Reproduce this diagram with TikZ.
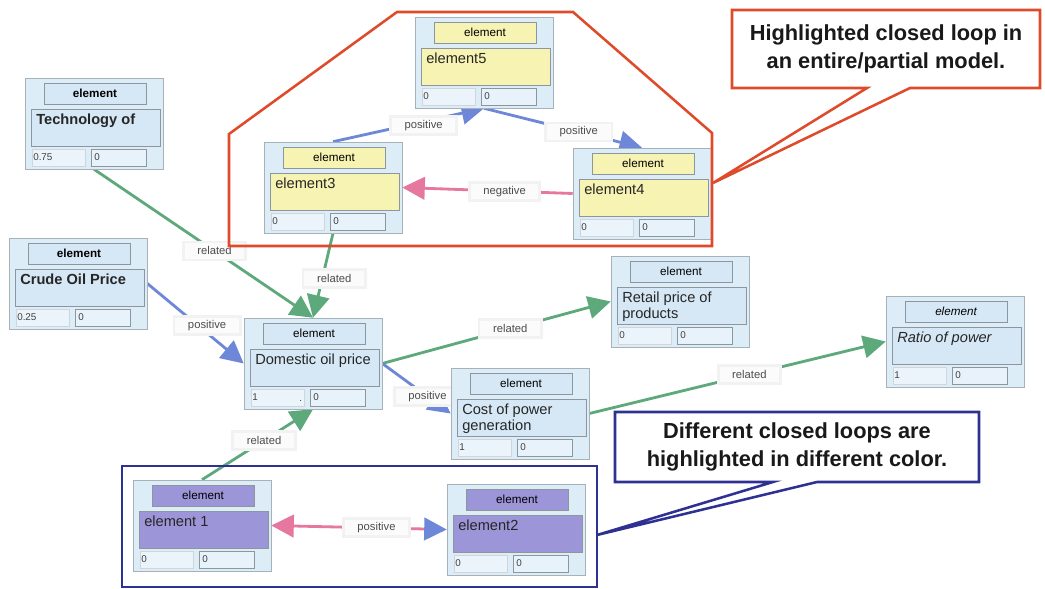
\documentclass[tikz,border=0pt]{standalone}
\usepackage{fontspec}
\setmainfont{Liberation Sans}
\usetikzlibrary{arrows.meta,backgrounds}

\definecolor{boxblue}{HTML}{DDEDF8}
\definecolor{fieldblue}{HTML}{D6E8F5}
\definecolor{boxline}{HTML}{A7B1BA}
\definecolor{fieldline}{HTML}{8C969F}
\definecolor{loopyellow}{HTML}{F7F3B2}
\definecolor{looppurple}{HTML}{9C96D9}
\definecolor{relgreen}{HTML}{5DA97B}
\definecolor{posblue}{HTML}{6E87D8}
\definecolor{negpink}{HTML}{E6779F}
\definecolor{loopred}{HTML}{DF4A2B}
\definecolor{loopblue}{HTML}{2E3192}

\newcommand{\elheadfont}{\fontsize{8.3}{10}\selectfont}
\newcommand{\elnamefont}{\fontsize{10.4}{10.9}\selectfont}
\newcommand{\elnumfont}{\fontsize{7}{8}\selectfont}

% one model element: name, x, y, text, first value, field colour, font shape
\newcommand{\elem}[7]{%
\begin{scope}[shift={(#2,#3)}]
\node[elbox] (#1) at (69,45.5) {};
\node[elfield, fill=#6, minimum width=2.55cm, minimum height=.525cm, font=\elheadfont#7] (#1-h) at (70,15.5) {element};
\node[elfield, fill=#6, minimum width=3.225cm, minimum height=.925cm] (#1-f) at (70.5,49.5) {};
\node[eltext, font=\elnamefont#7] (#1-t) at (11,36) {#4};
\node[elfield, draw=fieldline!40, fill=boxblue!60!white, minimum width=1.325cm, minimum height=.425cm] (#1-a) at (33.5,79.5) {};
\node[elnum] (#1-av) at (8,79.5) {#5};
\node[elfield, fill=boxblue!70!white, minimum width=1.375cm, minimum height=.425cm] (#1-b) at (93.5,79.5) {};
\node[elnum] (#1-bv) at (69,79.5) {0};
\end{scope}}

\begin{document}
\begin{tikzpicture}[x=0.025cm,y=-0.025cm]

\tikzset{
  elbox/.style={draw=boxline, fill=boxblue, minimum width=3.45cm, minimum height=2.275cm, inner sep=0},
  elfield/.style={draw=fieldline, inner sep=0},
  eltext/.style={anchor=north west, align=left, inner sep=0, text=black!85},
  elnum/.style={anchor=west, inner sep=0, font=\elnumfont, text=black!75},
  lbl/.style={fill=white!97!gray, draw=gray!10, font=\fontsize{8}{9}\selectfont, text=black!70, inner xsep=10pt, minimum height=.45cm, inner ysep=1pt},
  link/.style={line width=2pt, -{Triangle[length=16pt,width=16pt]}},
  callout/.style={line width=1.8pt, fill=white, line join=miter},
  callouttext/.style={align=center, font=\fontsize{15.5}{19.5}\selectfont\bfseries, text=black!90}
}

\useasboundingbox (0,0) rectangle (1045,589);

\elem{tech}{25}{78}{Technology of}{0.75}{fieldblue}{\bfseries}
\elem{crude}{9}{238}{Crude Oil Price}{0.25}{fieldblue}{\bfseries}
\elem{el5}{415}{17}{element5}{0}{loopyellow}{}
\elem{el3}{264}{142}{element3}{0}{loopyellow}{}
\elem{el4}{573}{148}{element4}{0}{loopyellow}{}
\elem{dom}{244}{318}{Domestic oil price}{1}{fieldblue}{}
\elem{retail}{611}{256}{Retail price of\\products}{0}{fieldblue}{}
\elem{cost}{451}{368}{Cost of power\\generation}{1}{fieldblue}{}
\elem{ratio}{886}{296}{Ratio of power}{1}{fieldblue}{\itshape}
\elem{el1}{133}{480}{element 1}{0}{looppurple}{}
\elem{el2}{447}{484}{element2}{0}{looppurple}{}
\node[elnum] (domdot) at (299,401) {.};

% links between the elements
\begin{pgfonlayer}{background}
\fill[white] (0,0) rectangle (1045,589);
\draw[link, relgreen] (tech.south) -- node[lbl, pos=.55] (l1) {related} (dom.north);
\draw[link, relgreen] (el3.south) -- node[lbl, pos=.54, xshift=.3cm] (l2) {related} (dom.north);
\draw[link, posblue] (crude.east) -- node[lbl, pos=.62, yshift=.2cm] (l3) {positive} (dom.west);
\draw[link, relgreen] (dom.east) -- node[lbl, pos=.56] (l4) {related} (retail.west);
\draw[link, posblue] (dom.east) -- node[lbl, pos=.66] (l5) {positive} (cost.west);
\draw[link, relgreen] (cost.east) -- node[lbl, pos=.54] (l6) {related} (ratio.west);
\draw[link, relgreen] (el1.north) -- node[lbl, pos=.56] (l7) {related} (dom.south);
\draw[line width=2pt, negpink, {Triangle[length=16pt,width=16pt]}-{Triangle[length=16pt,width=16pt,color=posblue]}]
  (el1.east) -- node[lbl, pos=.6] (l8) {positive} (el2.west);
\draw[link, posblue] (el3.north) -- node[lbl, pos=.6, yshift=-.1cm] (l9) {positive} (el5.south);
\draw[link, posblue] (el5.south) -- node[lbl, pos=.6] (l10) {positive} (el4.north);
\draw[link, negpink] (el4.west) -- node[lbl, pos=.4] (l11) {negative} (el3.east);
\end{pgfonlayer}

% loop outlines
\draw[loopred, line width=1.8pt, line join=miter] (229,134) -- (397,12) -- (573,12) -- (712,133) -- (712,246) -- (229,246) -- cycle;
\draw[loopblue, line width=1.8pt] (122,466) rectangle (597,587);

% callouts
\draw[callout, draw=loopred] (732,10) -- (1040,10) -- (1040,88) -- (910,88) -- (713,183) -- (867,88) -- (732,88) -- cycle;
\node[callouttext] (redtext) at (886,49) {Highlighted closed loop in\\an entire/partial model.};
\draw[callout, draw=loopblue] (615,412) -- (979,412) -- (979,482) -- (817,482) -- (597,535) -- (773,482) -- (615,482) -- cycle;
\node[callouttext] (bluetext) at (797,447) {Different closed loops are\\highlighted in different color.};

\end{tikzpicture}
\end{document}
